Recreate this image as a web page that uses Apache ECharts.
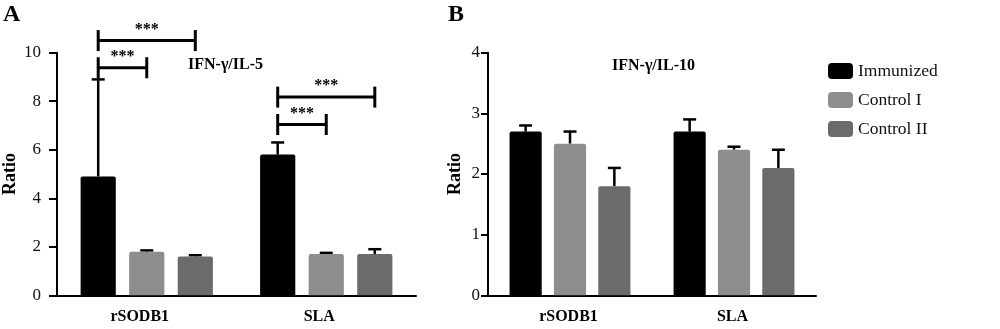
<!DOCTYPE html>
<html><head><meta charset="utf-8">
<script src="https://cdn.jsdelivr.net/npm/echarts@6/dist/echarts.min.js"></script>
<style>html,body{margin:0;padding:0;background:#fff}#c{width:1000px;height:329px}</style>
</head><body><div id="c"></div>
<script>
// ---- data ----
const categories = ['rSODB1', 'SLA'];
const seriesNames = ['Immunized', 'Control I', 'Control II'];
const il5Mean = [[4.9, 5.8], [1.8, 1.7], [1.6, 1.7]];
const il5ErrTop = [[8.9, 6.3], [1.85, 1.75], [1.65, 1.9]];
const il10Mean = [[2.7, 2.7], [2.5, 2.4], [1.8, 2.1]];
const il10ErrTop = [[2.8, 2.9], [2.7, 2.45], [2.1, 2.4]];
const yTicksA = [0, 2, 4, 6, 8, 10];
const yTicksB = [0, 1, 2, 3, 4];
// significance brackets (chart A): category, from series, to series, level, label
const sigCategory = [0, 0, 1, 1];
const sigFrom = [0, 0, 0, 0];
const sigTo = [2, 1, 2, 1];
const sigLevel = [10.5, 9.38, 8.17, 7.04];
const sigLabel = ['***', '***', '***', '***'];

// ---- style ----
const colors = ['#000000', '#8e8e8e', '#6b6b6b'];
const FONT = '"Liberation Serif", "Times New Roman", serif';
const BAR_W = 0.196, BAR_GAP = 0.38;

const chart = echarts.init(document.getElementById('c'), null, {renderer: 'canvas'});

function barCenter(api, cat, si) {
  const c = api.coord([cat, 0]);
  const band = api.size([1, 0])[0];
  const w = band * BAR_W;
  const step = w * (1 + BAR_GAP);
  return c[0] + (si - 1) * step;
}

function errSeries(gridIdx, errTop, mean) {
  const data = [];
  errTop.forEach((arr, si) => arr.forEach((v, ci) => data.push([ci, si, mean[si][ci], v])));
  return {
    type: 'custom', xAxisIndex: gridIdx, yAxisIndex: gridIdx, z: 1,
    encode: {x: 0, y: [2, 3]},
    renderItem: function (params, api) {
      const ci = api.value(0), si = api.value(1);
      const x = barCenter(api, ci, si);
      const y0 = api.coord([ci, api.value(2)])[1];
      const y1 = api.coord([ci, api.value(3)])[1];
      const half = 6.5;
      const st = {stroke: '#000', lineWidth: 2.5};
      return {type: 'group', children: [
        {type: 'line', shape: {x1: x, y1: y0, x2: x, y2: y1}, style: st},
        {type: 'line', shape: {x1: x - half, y1: y1, x2: x + half, y2: y1}, style: st}
      ]};
    },
    data: data, silent: true
  };
}

const sigData = sigCategory.map((c, i) => [c, sigLevel[i], sigFrom[i], sigTo[i], sigLabel[i]]);

function barSeries(gridIdx, mean) {
  return seriesNames.map((n, si) => ({
    type: 'bar', name: n, xAxisIndex: gridIdx, yAxisIndex: gridIdx,
    data: mean[si], barWidth: (BAR_W * 100) + '%', barGap: (BAR_GAP * 100) + '%',
    itemStyle: {color: colors[si], borderRadius: [2, 2, 0, 0]}, z: 2, silent: true
  }));
}

function xAxis(gridIdx, padRight) {
  return {
    type: 'category', gridIndex: gridIdx, data: categories,
    axisLine: {lineStyle: {color: '#000', width: 2}},
    axisTick: {alignWithLabel: true, length: 5, lineStyle: {color: '#000', width: 2}},
    axisLabel: {color: '#000', fontFamily: FONT, fontWeight: 'bold', fontSize: 16, margin: 14,
      padding: [0, padRight, 0, 0]}
  };
}
function yAxis(gridIdx, max, interval, gap, lmargin, tlen) {
  return {
    type: 'value', gridIndex: gridIdx, min: 0, max: max, interval: interval,
    name: 'Ratio', nameLocation: 'middle', nameGap: gap,
    nameTextStyle: {fontFamily: FONT, fontWeight: 'bold', fontSize: 18, color: '#000'},
    axisLine: {show: true, lineStyle: {color: '#000', width: 2}},
    axisTick: {show: true, length: tlen, lineStyle: {color: '#000', width: 2}},
    axisLabel: {color: '#111', fontFamily: FONT, fontSize: 17, margin: lmargin},
    splitLine: {show: false}
  };
}

const option = {
  animation: false,
  backgroundColor: '#fff',
  grid: [
    {left: 53, top: 52.7, width: 363, height: 242.6},
    {left: 488, top: 52.7, width: 328, height: 242.6}
  ],
  xAxis: [xAxis(0, 14), xAxis(1, 3)],
  yAxis: [yAxis(0, yTicksA[yTicksA.length - 1], 2, 38, 16, 8), yAxis(1, yTicksB[yTicksB.length - 1], 1, 24, 8, 7)],
  legend: {
    data: seriesNames, orient: 'vertical', left: 823, top: 57,
    itemWidth: 25, itemHeight: 16, itemGap: 11, icon: 'roundRect',
    textStyle: {fontFamily: FONT, fontSize: 17.5, color: '#111'},
    selectedMode: false
  },
  graphic: [
    {type: 'text', left: 3, top: 3, style: {text: 'A', font: 'bold 24px ' + FONT, fill: '#000'}},
    {type: 'text', left: 448, top: 3, style: {text: 'B', font: 'bold 24px ' + FONT, fill: '#000'}},
    {type: 'text', left: 188, top: 57, style: {text: 'IFN-γ/IL-5', font: 'bold 16px ' + FONT, fill: '#000'}},
    {type: 'text', left: 612, top: 58, style: {text: 'IFN-γ/IL-10', font: 'bold 16px ' + FONT, fill: '#000'}}
  ],
  series: [
    ...barSeries(0, il5Mean),
    errSeries(0, il5ErrTop, il5Mean),
    ...barSeries(1, il10Mean),
    errSeries(1, il10ErrTop, il10Mean),
    {
      type: 'custom', xAxisIndex: 0, yAxisIndex: 0, z: 3, silent: true,
      encode: {x: 0, y: 1},
      renderItem: function (params, api) {
        const ci = api.value(0);
        const y = api.coord([ci, api.value(1)])[1];
        const x0 = barCenter(api, ci, api.value(2));
        const x1 = barCenter(api, ci, api.value(3));
        const st = {stroke: '#000', lineWidth: 3};
        const h = 10.5;
        return {type: 'group', children: [
          {type: 'line', shape: {x1: x0, y1: y, x2: x1, y2: y}, style: st},
          {type: 'line', shape: {x1: x0, y1: y - h, x2: x0, y2: y + h}, style: st},
          {type: 'line', shape: {x1: x1, y1: y - h, x2: x1, y2: y + h}, style: st},
          {type: 'text', style: {text: sigData[params.dataIndex][4], x: (x0 + x1) / 2, y: y - 3,
            textAlign: 'center', textVerticalAlign: 'bottom', font: 'bold 16px ' + FONT, fill: '#000'}}
        ]};
      },
      data: sigData
    }
  ]
};
chart.setOption(option);
</script>
</body></html>
